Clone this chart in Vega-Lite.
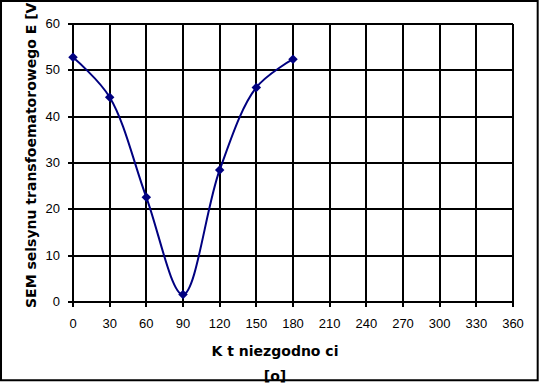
{
  "$schema": "https://vega.github.io/schema/vega-lite/v6.json",
  "width": 440,
  "height": 278,
  "autosize": {"type": "none"},
  "padding": {"left": 73, "top": 24, "right": 26, "bottom": 81},
  "background": "white",
  "config": {
    "view": {"stroke": null},
    "font": "Liberation Sans",
    "axis": {
      "labelFont": "Liberation Sans",
      "titleFont": "DejaVu Sans",
      "labelFontSize": 13,
      "labelColor": "black",
      "titleColor": "black",
      "titleFontSize": 14,
      "titleFontWeight": "bold",
      "grid": true,
      "gridColor": "#000000",
      "gridOpacity": 1,
      "gridWidth": 2,
      "domainColor": "#000000",
      "domainWidth": 2,
      "tickColor": "#000000",
      "tickWidth": 2,
      "tickSize": 5,
      "translate": 0,
      "labelOverlap": false,
      "labelFlush": false
    }
  },
  "data": {
    "values": [
      {"kat": 0, "sem": 52.8},
      {"kat": 30, "sem": 44.2},
      {"kat": 60, "sem": 22.6},
      {"kat": 90, "sem": 1.6},
      {"kat": 120, "sem": 28.5},
      {"kat": 150, "sem": 46.3},
      {"kat": 180, "sem": 52.4}
    ]
  },
  "layer": [
    {
      "mark": {"type": "line", "interpolate": "catmull-rom", "color": "#000080", "strokeWidth": 2, "clip": false},
      "encoding": {
        "x": {
          "field": "kat",
          "type": "quantitative",
          "scale": {"domain": [0, 360], "nice": false, "zero": false},
          "axis": {
            "values": [0, 30, 60, 90, 120, 150, 180, 210, 240, 270, 300, 330, 360],
            "tickCount": 13,
            "labelPadding": 11,
            "title": ["K t niezgodno ci", "[o]"],
            "titleX": 202,
            "titlePadding": 14,
            "titleLineHeight": 25
          }
        },
        "y": {
          "field": "sem",
          "type": "quantitative",
          "scale": {"domain": [0, 60], "nice": false, "zero": false},
          "axis": {
            "values": [0, 10, 20, 30, 40, 50, 60],
            "tickCount": 7,
            "labelPadding": 8,
            "title": "SEM selsynu transfoematorowego E [V",
            "titleAnchor": "start",
            "titleY": 284,
            "titlePadding": 7
          }
        }
      }
    },
    {
      "mark": {"type": "point", "shape": "diamond", "filled": true, "color": "#000080", "size": 90, "opacity": 1, "clip": false},
      "encoding": {
        "x": {
          "field": "kat",
          "type": "quantitative",
          "axis": {
            "values": [0, 30, 60, 90, 120, 150, 180, 210, 240, 270, 300, 330, 360],
            "tickCount": 13,
            "labelPadding": 11,
            "title": ["K t niezgodno ci", "[o]"],
            "titleX": 202,
            "titlePadding": 14,
            "titleLineHeight": 25
          }
        },
        "y": {
          "field": "sem",
          "type": "quantitative",
          "axis": {
            "values": [0, 10, 20, 30, 40, 50, 60],
            "tickCount": 7,
            "labelPadding": 8,
            "title": "SEM selsynu transfoematorowego E [V",
            "titleAnchor": "start",
            "titleY": 284,
            "titlePadding": 7
          }
        }
      }
    },
    {
      "data": {"values": [{"frame": 1}]},
      "mark": {"type": "rect", "fill": null, "stroke": "black", "strokeWidth": 2, "clip": false},
      "encoding": {
        "x": {
          "datum": -58.9,
          "type": "quantitative",
          "axis": {
            "values": [0, 30, 60, 90, 120, 150, 180, 210, 240, 270, 300, 330, 360],
            "tickCount": 13,
            "labelPadding": 11,
            "title": ["K t niezgodno ci", "[o]"],
            "titleX": 202,
            "titlePadding": 14,
            "titleLineHeight": 25
          }
        },
        "x2": {"datum": 380.2},
        "y": {
          "datum": 64.97,
          "type": "quantitative",
          "axis": {
            "values": [0, 10, 20, 30, 40, 50, 60],
            "tickCount": 7,
            "labelPadding": 8,
            "title": "SEM selsynu transfoematorowego E [V",
            "titleAnchor": "start",
            "titleY": 284,
            "titlePadding": 7
          }
        },
        "y2": {"datum": -16.9}
      }
    }
  ]
}
